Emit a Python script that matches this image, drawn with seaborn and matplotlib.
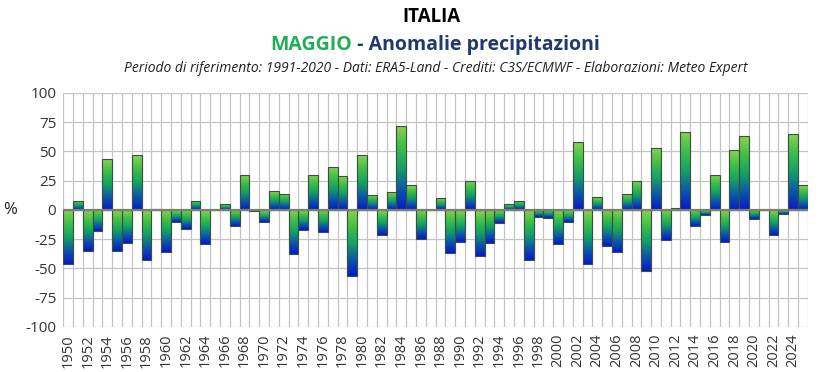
import numpy as np
import pandas as pd
import matplotlib
matplotlib.use("Agg")
import matplotlib.pyplot as plt
from matplotlib.colors import LinearSegmentedColormap
import seaborn as sns

# May precipitation anomalies (%) vs 1991-2020, Italy
years = list(range(1950, 2026))
anomalies = [
    -46, 8, -35, -18, 44, -35, -28, 47, -43, 1,
    -36, -10, -16, 8, -29, 0, 5, -14, 30, -1,
    -10, 16, 14, -38, -17, 30, -19, 37, 29, -56,
    47, 13, -21, 15, 72, 21, -25, 0, 10, -37,
    -27, 25, -39, -28, -11, 5, 8, -43, -6, -7,
    -29, -10, 58, -46, 11, -31, -36, 14, 25, -52,
    53, -26, 2, 67, -14, -4, 30, -27, 51, 63,
    -8, 0, -21, -3, 65, 21,
]
yticks = [100, 75, 50, 25, 0, -25, -50, -75, -100]

df = pd.DataFrame({"anno": [str(y) for y in years], "anomalia": anomalies})

sns.set_style("white")
plt.rcParams["font.family"] = ["Open Sans", "DejaVu Sans"]

fig = plt.figure(figsize=(8.21, 3.72), dpi=100)
ax = fig.add_axes([0.077, 0.121, 0.907, 0.629])

sns.barplot(data=df, x="anno", y="anomalia", width=1.0, color="#2db34a",
            edgecolor="#3c4f3c", linewidth=0.8, ax=ax, zorder=3)

# vertical gradient on each bar: light green at top, blue at bottom
cmap = LinearSegmentedColormap.from_list(
    "gb", [(0.0, "#0818c8"), (0.22, "#0a50b0"), (0.5, "#14a264"),
           (0.75, "#3fbf48"), (1.0, "#8ad352")])
grad = np.linspace(0, 1, 256).reshape(-1, 1)
for p in ax.patches:
    x0, y0 = p.get_x(), p.get_y()
    w, h = p.get_width(), p.get_height()
    if h == 0:
        continue
    lo, hi = min(y0, y0 + h), max(y0, y0 + h)
    p.set_facecolor("none")
    im = ax.imshow(grad, cmap=cmap, origin="lower", aspect="auto",
                   extent=[x0, x0 + w, lo, hi], zorder=2.5)
    im.set_clip_path(p)

ax.set_xlim(-0.5, len(years) - 0.5)
ax.set_ylim(-100, 100)
ax.set_yticks(yticks)
ax.set_yticklabels([str(t) for t in yticks], fontsize=11, color="#333333")
ax.set_xticks(range(0, len(years), 2))
ax.set_xticklabels([str(y) for y in years[::2]], rotation=90, fontsize=10.5,
                   color="#333333")
ax.set_xticks(np.arange(-0.5, len(years), 1), minor=True)
ax.tick_params(length=0, which="both", pad=5)
ax.grid(True, axis="y", color="#c4c4c4", linewidth=0.9, zorder=0)
ax.grid(True, axis="x", which="minor", color="#c4c4c4", linewidth=0.9, zorder=0)
ax.grid(False, axis="x", which="major")
ax.axhline(0, color="#7a7f72", linewidth=1.6, zorder=4)
for s in ax.spines.values():
    s.set_visible(False)
ax.set_xlabel("")
ax.set_ylabel("%", rotation=0, fontsize=12, va="center", color="#222222")
ax.yaxis.set_label_coords(-0.072, 0.5)

fig.text(0.525, 0.955, "ITALIA", ha="center", va="center", fontsize=13.5,
         fontweight="bold", color="black")

# two-coloured second title line
r = fig.canvas.get_renderer()
t1 = fig.text(0, 0.88, "MAGGIO", fontsize=14, fontweight="bold",
              color="#1fae55", va="center")
t2 = fig.text(0, 0.88, " - Anomalie precipitazioni", fontsize=14,
              fontweight="bold", color="#1f3a6e", va="center")
w1 = t1.get_window_extent(r).width / fig.bbox.width
w2 = t2.get_window_extent(r).width / fig.bbox.width
start = 0.53 - (w1 + w2) / 2
t1.set_x(start)
t2.set_x(start + w1)

fig.text(0.531, 0.815,
         "Periodo di riferimento: 1991-2020 - Dati: ERA5-Land - Crediti: "
         "C3S/ECMWF - Elaborazioni: Meteo Expert",
         ha="center", va="center", fontsize=10, style="italic", color="#222222")

fig.savefig("out.png", dpi=100)
